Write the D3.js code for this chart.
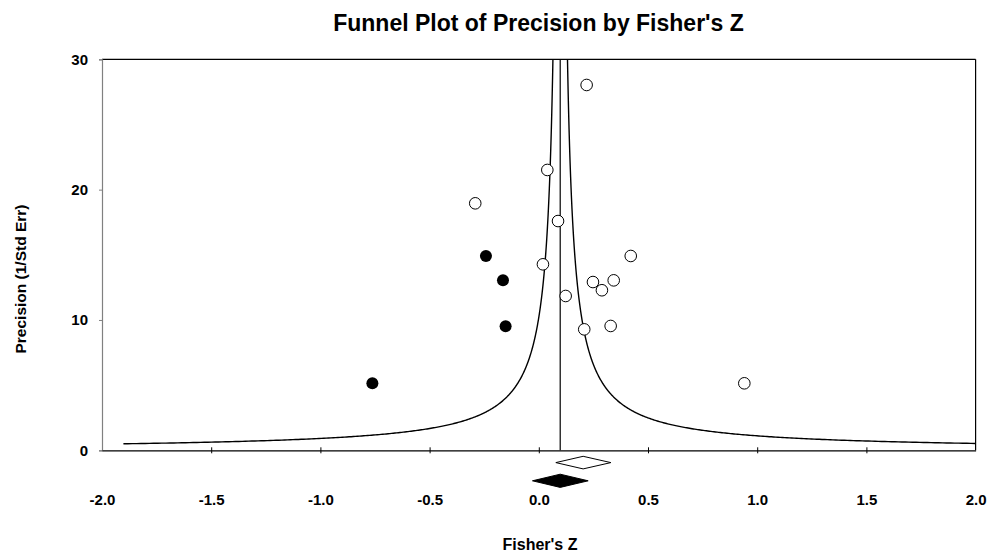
<!DOCTYPE html>
<html>
<head>
<meta charset="utf-8">
<script src="https://cdn.jsdelivr.net/npm/d3@7"></script>
<style>
  body { margin: 0; background: #fff; }
  text { font-family: Arial, "Liberation Sans", sans-serif; font-weight: bold; fill: #000; }
</style>
</head>
<body>
<svg id="chart" width="989" height="552"></svg>
<script>
// observed studies (Fisher's Z, precision)
var obsZ = [0.219, 0.039, -0.291, 0.088, 0.019, 0.421, 0.248, 0.343, 0.289, 0.123, 0.208, 0.329, 0.941];
var obsP = [28.03, 21.51, 18.95, 17.59, 14.27, 14.91, 12.91, 13.04, 12.28, 11.84, 9.28, 9.54, 5.14];

// imputed studies (trim and fill)
var impZ = [-0.242, -0.164, -0.152, -0.762];
var impP = [14.91, 13.04, 9.51, 5.14];

// summary diamonds: lower, point, upper
var observedCI = [0.078, 0.203, 0.330];
var adjustedCI = [-0.029, 0.098, 0.226];

var meanZ = 0.098;
var funnelK = 1.0;       // half width = funnelK / precision
var minPrecision = 0.5;

var xTicks = [-2.0, -1.5, -1.0, -0.5, 0.0, 0.5, 1.0, 1.5, 2.0];
var yTicks = [0, 10, 20, 30];

var svg = d3.select("#chart");

var x = d3.scaleLinear().domain([-2, 2]).range([102, 975.6]);
var y = d3.scaleLinear().domain([0, 30]).range([450.3, 59.3]);

var fmtX = function(d){ return d3.format(".1f")(d).replace("\u2212", "-"); };

// title
svg.append("text")
    .attr("x", 538.5).attr("y", 30.5)
    .attr("text-anchor", "middle")
    .style("font-size", "23px")
    .text("Funnel Plot of Precision by Fisher's Z");

// clip for the funnel
svg.append("clipPath").attr("id", "plotclip")
    .append("rect")
    .attr("x", x(-2)).attr("y", y(30))
    .attr("width", x(2) - x(-2)).attr("height", y(0) - y(30));

// funnel curves
var precs = d3.range(0, 401).map(function(i){ return minPrecision * Math.pow(30 / minPrecision, i / 400); });
var line = d3.line()
    .x(function(d){ return x(d[0]); })
    .y(function(d){ return y(d[1]); });

[-1, 1].forEach(function(side){
    svg.append("path")
        .datum(precs.map(function(p){ return [meanZ + side * funnelK / p, p]; }))
        .attr("d", line)
        .attr("clip-path", "url(#plotclip)")
        .attr("fill", "none")
        .attr("stroke", "#000")
        .attr("stroke-width", 1.4);
});

// mean line
svg.append("line")
    .attr("x1", x(meanZ)).attr("x2", x(meanZ))
    .attr("y1", y(0)).attr("y2", y(30))
    .attr("stroke", "#000").attr("stroke-width", 1.2);

// frame: top and right
svg.append("line")
    .attr("x1", x(-2)).attr("x2", x(2))
    .attr("y1", y(30)).attr("y2", y(30))
    .attr("stroke", "#000").attr("stroke-width", 1.2);
svg.append("line")
    .attr("x1", x(2)).attr("x2", x(2))
    .attr("y1", y(30)).attr("y2", y(0))
    .attr("stroke", "#000").attr("stroke-width", 1.2);

// y axis
var yAxis = svg.append("g")
    .attr("transform", "translate(" + x(-2) + ",0)")
    .call(d3.axisLeft(y).tickValues(yTicks).tickFormat(d3.format("d")).tickSize(3).tickPadding(11));
yAxis.select(".domain").attr("stroke", "#808080").attr("stroke-width", 1.2);
yAxis.selectAll(".tick line").attr("stroke", "#808080");
yAxis.selectAll(".tick text")
    .style("font-size", "15px")
    .style("font-family", "Arial, 'Liberation Sans', sans-serif")
    .style("font-weight", "bold")
    .attr("fill", "#000");

// x axis
var xAxis = svg.append("g")
    .attr("transform", "translate(0," + y(0) + ")")
    .call(d3.axisBottom(x).tickValues(xTicks).tickFormat(fmtX).tickSizeOuter(0).tickSizeInner(3));
xAxis.select(".domain").attr("stroke", "#000").attr("stroke-width", 1.2);
xAxis.selectAll(".tick line").attr("y1", -3).attr("y2", 3).attr("stroke", "#000");
xAxis.selectAll(".tick text")
    .attr("y", 54.5).attr("dy", 0)
    .style("font-size", "15px")
    .style("font-family", "Arial, 'Liberation Sans', sans-serif")
    .style("font-weight", "bold")
    .attr("fill", "#000");
xAxis.selectAll(".tick").filter(function(d){ return d === -2 || d === 2; }).select("line").remove();

// axis titles
svg.append("text")
    .attr("transform", "translate(26,279) rotate(-90)")
    .attr("text-anchor", "middle")
    .style("font-size", "15.5px")
    .text("Precision (1/Std Err)");
svg.append("text")
    .attr("x", 540).attr("y", 550)
    .attr("text-anchor", "middle")
    .style("font-size", "16px")
    .text("Fisher's Z");

// points
svg.selectAll(".obs")
    .data(obsZ.map(function(z, i){ return [z, obsP[i]]; }))
    .enter().append("circle")
    .attr("class", "obs")
    .attr("cx", function(d){ return x(d[0]); })
    .attr("cy", function(d){ return y(d[1]); })
    .attr("r", 5.8)
    .attr("fill", "#fff")
    .attr("stroke", "#000")
    .attr("stroke-width", 1);

svg.selectAll(".imp")
    .data(impZ.map(function(z, i){ return [z, impP[i]]; }))
    .enter().append("circle")
    .attr("class", "imp")
    .attr("cx", function(d){ return x(d[0]); })
    .attr("cy", function(d){ return y(d[1]); })
    .attr("r", 6)
    .attr("fill", "#000");

// diamonds
function diamond(ci, cy, half, fill){
    var pts = [[x(ci[0]), cy], [x(ci[1]), cy - half], [x(ci[2]), cy], [x(ci[1]), cy + half]];
    svg.append("polygon")
        .attr("points", pts.map(function(p){ return p.join(","); }).join(" "))
        .attr("fill", fill)
        .attr("stroke", "#000")
        .attr("stroke-width", 1);
}
diamond(observedCI, y(0) + 12.3, 6.3, "#fff");
diamond(adjustedCI, y(0) + 30.5, 6.6, "#000");
</script>
</body>
</html>
